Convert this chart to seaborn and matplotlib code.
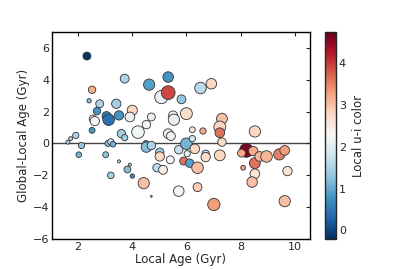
import numpy as np
import pandas as pd
import matplotlib
matplotlib.use("Agg")
import matplotlib.pyplot as plt
import seaborn as sns

local_age = [2.34, 3.73, 4.63, 5.33, 5.08, 5.33, 5.82, 6.52, 6.92, 2.53,
             2.42, 2.81, 3.42, 2.71, 3.06, 3.14, 3.52, 4.01, 3.92, 2.56,
             2.63, 2.53, 3.61, 3.73, 4.22, 4.53, 4.71, 5.51, 5.54, 6.00,
             5.33, 5.43, 6.22, 6.61, 7.31, 7.23, 7.23, 7.31, 8.52, 1.64,
             1.74, 1.93, 2.14, 2.04, 3.03, 3.12, 3.22, 3.30, 3.22, 3.52,
             3.92, 3.83, 4.01, 4.43, 4.71, 4.51, 4.53, 4.71, 5.02, 5.02,
             4.92, 5.14, 5.41, 5.72, 5.72, 6.00, 6.22, 6.31, 6.03, 5.90,
             6.12, 6.41, 6.41, 6.71, 6.71, 7.23, 7.01, 8.21, 8.03, 8.46,
             8.09, 8.52, 8.70, 8.95, 8.52, 8.42, 9.42, 9.62, 9.72, 9.62]
age_diff = [5.49, 4.07, 3.69, 4.17, 2.91, 3.19, 2.77, 3.48, 3.75, 3.37,
            2.68, 2.49, 2.49, 2.03, 1.72, 1.49, 1.76, 2.08, 1.66, 1.55,
            1.40, 0.82, 0.61, 0.36, 0.71, 1.18, 1.66, 1.76, 1.49, 1.87,
            0.61, 0.46, 0.86, 0.78, 1.55, 1.03, 0.67, 0.08, 0.75, 0.08,
            0.30, 0.50, -0.13, -0.71, -0.71, 0.00, 0.10, -0.05, -2.01, -1.13,
            -1.34, -1.64, -2.05, -2.50, -3.33, 0.00, -0.23, -0.13, -0.55, -0.82,
            -1.53, -1.66, -1.03, -0.40, -3.00, -0.02, 0.30, -0.34, -0.65, -1.11,
            -1.24, -1.53, -2.75, -0.65, -0.86, -0.75, -3.84, -0.44, -0.61, -0.48,
            -1.53, -1.24, -0.82, -0.82, -1.91, -2.43, -0.69, -0.44, -1.74, -3.63]
ui_color = [-0.15, 1.5, 0.9, 0.8, 2.1, 3.9, 1.3, 1.6, 2.8, 3.2,
            1.2, 1.5, 1.4, 0.8, 0.6, 0.4, 0.8, 2.8, 2.1, 2.7,
            2.2, 0.8, 1.4, 1.4, 2.2, 2.2, 2.1, 2.2, 2.1, 2.7,
            2.5, 2.1, 2.6, 3.2, 3.0, 2.8, 3.6, 2.7, 2.8, 1.5,
            1.5, 1.5, 1.3, 1.1, 1.3, 1.2, 1.7, 1.1, 1.4, 1.5,
            1.5, 1.2, 0.7, 3.0, 1.0, 0.3, 1.2, 1.5, 1.4, 2.8,
            1.6, 2.4, 2.2, 1.7, 2.3, 1.1, 1.8, 2.8, 2.0, 3.6,
            0.9, 3.0, 2.9, 1.7, 2.7, 2.8, 3.3, 4.6, 3.2, 3.2,
            3.3, 3.6, 3.1, 3.1, 2.6, 3.0, 3.5, 3.3, 2.6, 3.0]
marker_size = [40, 50, 80, 70, 110, 120, 50, 85, 70, 35,
               12, 40, 55, 35, 50, 85, 55, 65, 60, 35,
               55, 22, 45, 25, 100, 45, 40, 50, 80, 90,
               60, 50, 22, 25, 75, 90, 60, 45, 80, 10,
               10, 25, 25, 20, 22, 25, 25, 20, 28, 6,
               6, 30, 12, 80, 2, 20, 70, 45, 45, 55,
               45, 50, 40, 45, 70, 85, 25, 60, 25, 40,
               45, 85, 50, 35, 55, 75, 95, 120, 40, 55,
               15, 75, 60, 85, 60, 70, 80, 60, 55, 80]

df = pd.DataFrame({"x": local_age, "y": age_diff, "c": ui_color, "s": marker_size})

sns.set_style("white")
plt.rcParams['font.family'] = ['DejaVu Sans']

fig = plt.figure(figsize=(4.15, 2.69), dpi=100)
ax = fig.add_axes([0.125, 0.112, 0.622, 0.769])
cax = fig.add_axes([0.783, 0.112, 0.027, 0.769])

vmin, vmax = -0.2, 4.73
sns.scatterplot(data=df, x="x", y="y", hue="c", size="s", palette="RdBu_r",
                hue_norm=(vmin, vmax), sizes=(1.6, 98), size_norm=(2, 120),
                edgecolor="#333333", linewidth=0.6, legend=False, ax=ax)
ax.axhline(0, color="#444444", lw=1.0, zorder=0)

ax.set_xlim(1.05, 10.55)
ax.set_ylim(-6, 7)
ax.set_xticks([2, 4, 6, 8, 10])
ax.set_yticks([-6, -4, -2, 0, 2, 4, 6])
ax.set_xlabel("Local Age (Gyr)", fontsize=8.5, labelpad=1)
ax.set_ylabel("Global-Local Age (Gyr)", fontsize=8.5, labelpad=2)
ax.tick_params(direction="in", top=True, right=True, labelsize=8, length=3, pad=2)
for sp in ax.spines.values():
    sp.set_color("black")
    sp.set_linewidth(1.0)

sm = matplotlib.cm.ScalarMappable(cmap="RdBu_r", norm=matplotlib.colors.Normalize(vmin, vmax))
cb = fig.colorbar(sm, cax=cax)
cb.set_ticks([0, 1, 2, 3, 4])
cb.ax.tick_params(direction="in", labelsize=8, length=3, pad=2)
cb.set_label("Local u-i color", fontsize=8.5)
cb.outline.set_linewidth(1.0)

fig.savefig("out.png", dpi=100)
